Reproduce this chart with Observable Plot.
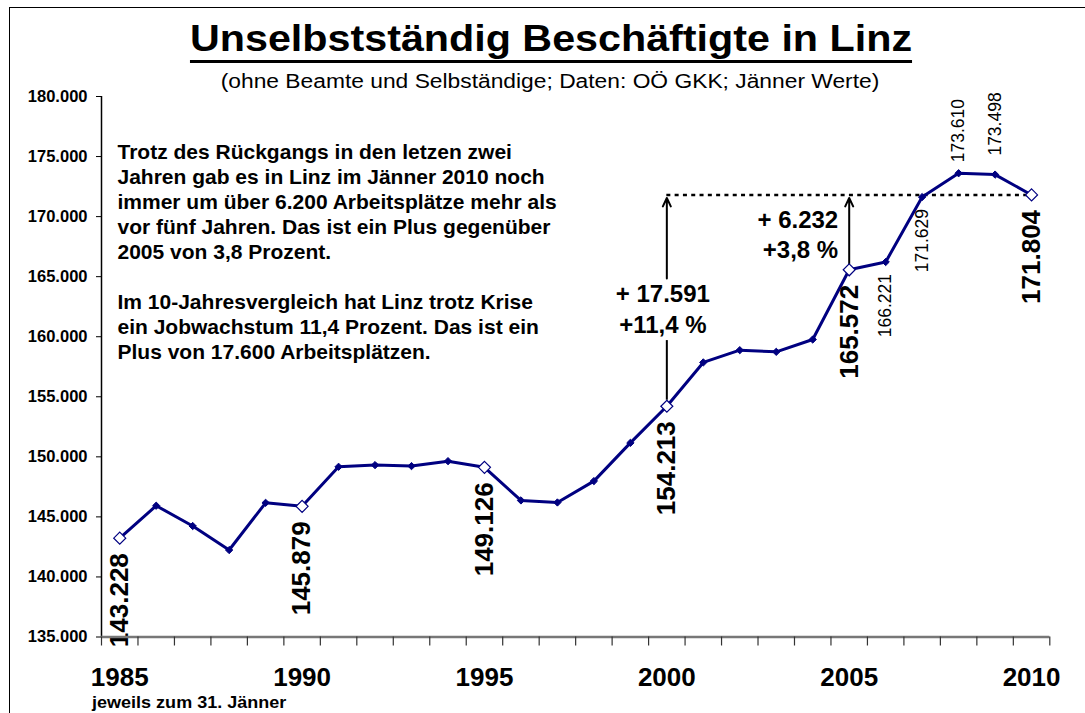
<!DOCTYPE html>
<html>
<head>
<meta charset="utf-8">
<script src="https://cdn.jsdelivr.net/npm/d3@7"></script>
<script src="https://cdn.jsdelivr.net/npm/@observablehq/plot@0.6"></script>
<style>
  body { margin: 0; background: #fff; }
  #wrap { position: relative; width: 1085px; height: 713px; overflow: hidden; background: #fff;
          font-family: "Liberation Sans", Arial, sans-serif; color: #000; }
  #frame { position: absolute; left: 9px; top: 7px; width: 2000px; height: 2000px;
           border-left: 1.5px solid #000; border-top: 1.5px solid #000; }
  #chart { position: absolute; left: 0; top: 0; }
  .t { position: absolute; white-space: nowrap; }
  #title { left: 551px; top: 21px; font-size: 36px; line-height: 36px; font-weight: bold;
           text-decoration: underline; text-decoration-thickness: 3px; text-underline-offset: 9px;
           transform: translateX(-50%) scaleX(1.146); }
  #subtitle { left: 550px; top: 71px; font-size: 20px; line-height: 20px;
              transform: translateX(-50%) scaleX(1.14); }
  #footer { left: 92px; top: 694px; font-size: 17px; line-height: 18px; font-weight: bold;
            transform-origin: left center; transform: scaleX(1.06); }
</style>
</head>
<body>
<div id="wrap">
  <div id="frame"></div>
  <div id="chart"></div>
  <div class="t" id="title">Unselbstständig Beschäftigte in Linz</div>
  <div class="t" id="subtitle">(ohne Beamte und Selbständige; Daten: OÖ GKK; Jänner Werte)</div>
  <div class="t" id="footer">jeweils zum 31. Jänner</div>
</div>
<script>
// ---- data ----
const years = [1985, 1986, 1987, 1988, 1989, 1990, 1991, 1992, 1993, 1994, 1995, 1996, 1997,
               1998, 1999, 2000, 2001, 2002, 2003, 2004, 2005, 2006, 2007, 2008, 2009, 2010];
const employees = [143228, 145930, 144240, 142240, 146170, 145879, 149170, 149310, 149230, 149640,
                   149126, 146370, 146200, 147980, 151160, 154213, 157860, 158880, 158740, 159770,
                   165572, 166221, 171629, 173610, 173498, 171804];
const keyYears = [1985, 1990, 1995, 2000, 2005, 2010];
const smallBelowYears = [2006, 2007];
const smallAbove1Years = [2008];
const smallAbove2Years = [2009];
const diffYears = [2000, 2005];
const diffLabels = ["+ 17.591\n+11,4 %", "+ 6.232\n+3,8 %"];
const yTicks = [135000, 140000, 145000, 150000, 155000, 160000, 165000, 170000, 175000, 180000];
const xLabelYears = [1985, 1990, 1995, 2000, 2005, 2010];
const noteText = "Trotz des Rückgangs in den letzen zwei\nJahren gab es in Linz im Jänner 2010 noch\nimmer um über 6.200 Arbeitsplätze mehr als\nvor fünf Jahren. Das ist ein Plus gegenüber\n2005 von 3,8 Prozent.\n\nIm 10-Jahresvergleich hat Linz trotz Krise\nein Jobwachstum 11,4 Prozent. Das ist ein\nPlus von 17.600 Arbeitsplätzen.";

// ---- derived tables ----
const data = years.map((year, i) => ({year, value: employees[i]}));
const valueOf = y => employees[years.indexOf(y)];
const lastYear = years[years.length - 1];
const lastValue = employees[employees.length - 1];
const diff = diffYears.map((year, i) => {
  const from = valueOf(year);
  return {year, from, to: lastValue, mid: (from + lastValue) / 2, label: diffLabels[i]};
});
const fmt = v => d3.format(",")(v).replace(/,/g, ".");
const inYears = arr => data.filter(d => arr.includes(d.year));
const navy = "#000080";
const xMin = years[0] - 0.5, xMax = lastYear + 0.5;

const chart = Plot.plot({
  width: 1085,
  height: 713,
  marginLeft: 101,
  marginRight: 35.7,
  marginTop: 96,
  marginBottom: 76.5,
  style: {fontFamily: "Liberation Sans, Arial, sans-serif", background: "transparent", color: "#000", overflow: "visible"},
  x: {type: "linear", domain: [xMin, xMax]},
  y: {domain: [yTicks[0], yTicks[yTicks.length - 1]]},
  marks: [
    // explanatory paragraph
    Plot.text([noteText], {frameAnchor: "top-left", dx: 16, dy: 44.5, textAnchor: "start", lineAnchor: "top",
      fontSize: 21, fontWeight: "bold", lineHeight: 25 / 21, fill: "#000"}),
    // dotted reference line at 2010 level
    Plot.ruleY(diff.slice(0, 1), {x1: "year", x2: () => lastYear, y: "to", stroke: "#000",
      strokeWidth: 2.5, strokeDasharray: "4,4.3"}),
    // 10-year arrow (split around its label)
    Plot.ruleX(diff.filter(d => d.year === 2000), {x: "year", y1: "mid", y2: "from", insetTop: 40, insetBottom: 6,
      stroke: "#000", strokeWidth: 2}),
    Plot.arrow(diff.filter(d => d.year === 2000), {x1: "year", x2: "year", y1: "mid", y2: "to", insetStart: 22, insetEnd: 3,
      stroke: "#000", strokeWidth: 2, headLength: 7, headAngle: 50}),
    // 5-year arrow
    Plot.arrow(diff.filter(d => d.year === 2005), {x1: "year", x2: "year", y1: "from", y2: "to", insetStart: 6, insetEnd: 3,
      stroke: "#000", strokeWidth: 2, headLength: 7, headAngle: 50}),
    Plot.text(diff.filter(d => d.year === 2000), {x: "year", y: "mid", text: "label", dx: -4, dy: 7,
      textAnchor: "middle", fontSize: 24, fontWeight: "bold", lineHeight: 31 / 24, fill: "#000"}),
    Plot.text(diff.filter(d => d.year === 2005), {x: "year", y: "mid", text: "label", dx: -11, dy: 1,
      textAnchor: "end", fontSize: 24, fontWeight: "bold", lineHeight: 30 / 24, fill: "#000"}),
    // series
    Plot.line(data, {x: "year", y: "value", stroke: navy, strokeWidth: 3}),
    Plot.dot(data.filter(d => !keyYears.includes(d.year)), {x: "year", y: "value", symbol: "diamond2", r: 3.3,
      fill: navy, stroke: navy, strokeWidth: 1}),
    Plot.dot(inYears(keyYears), {x: "year", y: "value", symbol: "diamond2", r: 5.4,
      fill: "white", stroke: navy, strokeWidth: 1.2}),
    // value labels
    Plot.text(inYears(keyYears), {x: "year", y: "value", text: d => fmt(d.value), rotate: -90,
      textAnchor: "end", dy: 15, fontSize: 26, fontWeight: "bold", fill: "#000"}),
    Plot.text(inYears(smallBelowYears), {x: "year", y: "value", text: d => fmt(d.value), rotate: -90,
      textAnchor: "end", dy: 12, fontSize: 17.5, fill: "#000"}),
    Plot.text(inYears(smallAbove1Years), {x: "year", y: "value", text: d => fmt(d.value), rotate: -90,
      textAnchor: "start", dy: -11, fontSize: 17.5, fill: "#000"}),
    Plot.text(inYears(smallAbove2Years), {x: "year", y: "value", text: d => fmt(d.value), rotate: -90,
      textAnchor: "start", dy: -19, fontSize: 17.5, fill: "#000"}),
    // axes
    Plot.ruleX([xMin], {stroke: "#000", strokeWidth: 1.5}),
    Plot.axisY({ticks: yTicks, tickSize: 5, tickPadding: 9, tickFormat: fmt, fontSize: 16.5,
      fontWeight: "bold", label: null, stroke: "#000", strokeWidth: 1, fill: "#000"}),
    Plot.ruleY([yTicks[0]], {stroke: "#777", strokeWidth: 2.3}),
    Plot.axisX({ticks: d3.range(xMin, xMax + 0.5, 1), tickSize: 9, tickFormat: () => "", label: null,
      stroke: "#333", strokeWidth: 1.2}),
    Plot.axisX({ticks: xLabelYears, tickSize: 0, tickPadding: 31, tickFormat: d => String(d),
      fontSize: 26, fontWeight: "bold", label: null, fill: "#000"})
  ]
});
document.getElementById("chart").appendChild(chart);
</script>
</body>
</html>
